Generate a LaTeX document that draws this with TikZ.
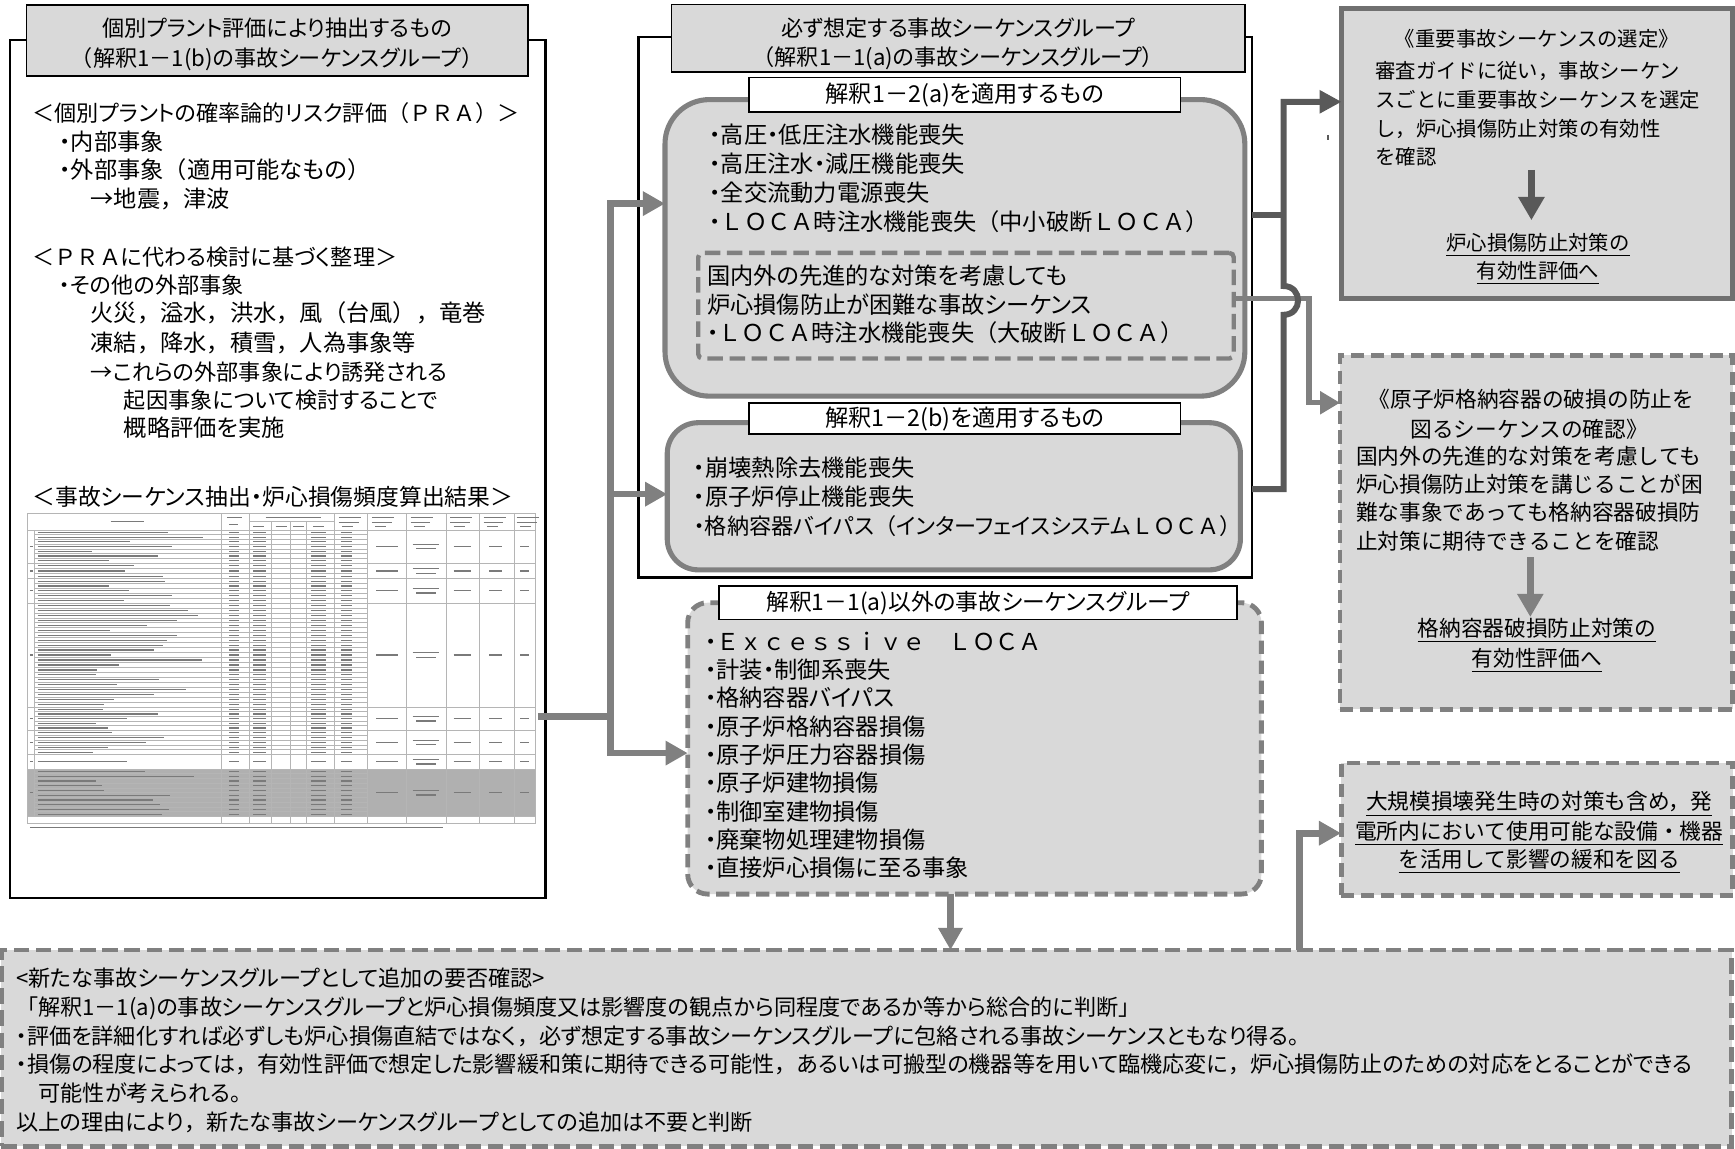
\documentclass[tikz,border=0pt]{standalone}
\usepackage{fontspec}
\usepackage{graphicx}
\setmainfont{Noto Sans CJK JP}[RawFeature={+palt}]
\newfontfamily\monojp{Noto Sans CJK JP}
\newfontfamily\fwfont{Noto Sans CJK JP}
\newcommand\fw[1]{{\fwfont #1}}
\usetikzlibrary{arrows.meta,fit}
\definecolor{boxgray}{HTML}{D9D9D9}
\definecolor{edgegray}{HTML}{808080}
\definecolor{darkline}{HTML}{595959}
\definecolor{rone}{HTML}{707070}
\definecolor{tgray}{HTML}{B0B0B0}
\definecolor{tline}{HTML}{B5B5B5}
\definecolor{tbar}{HTML}{7A7A7A}
\tikzset{
  every node/.style={inner sep=0pt, outer sep=0pt},
  txt/.style={anchor=west, font=\fontsize{10pt}{12pt}\selectfont, text height=8.8pt, text depth=1.2pt},
  big/.style={txt, font=\fontsize{10.5pt}{12pt}\selectfont},
  ctxt/.style={txt, anchor=center},
  ttl/.style={ctxt, font=\fontsize{10pt}{12pt}\selectfont},
  sub/.style={ctxt, font=\fontsize{10.5pt}{12pt}\selectfont},
  rtxtA/.style={anchor=west, font=\monojp\fontsize{9.2pt}{12pt}\selectfont, text height=8.1pt, text depth=1.1pt},
  rtxtB/.style={anchor=west, font=\monojp\fontsize{9.8pt}{12pt}\selectfont, text height=8.6pt, text depth=1.2pt},
  btxt/.style={txt, font=\fontsize{10pt}{12pt}\selectfont},
  plainbox/.style={draw=black, line width=1pt},
  titlebox/.style={draw=black, fill=boxgray, line width=0.7pt},
  subbox/.style={draw=black, fill=white, line width=0.7pt},
  roundbox/.style={draw=edgegray, fill=boxgray, line width=2.3pt},
  solidbox/.style={draw=rone, fill=boxgray, line width=2.3pt},
  dashbox/.style={draw=edgegray, fill=boxgray, line width=2.2pt, dash pattern=on 6pt off 3pt},
  gcon/.style={draw=edgegray, line width=3pt, line join=miter},
  dcon/.style={draw=darkline, line width=2.7pt, line join=miter},
  lcon/.style={draw=edgegray, line width=2.4pt, line join=miter},
  arrowG/.style={-{Triangle[length=10pt,width=10.5pt]}},
  arrowS/.style={-{Triangle[length=9pt,width=10pt]}},
  tl/.style={draw=tline, line width=0.35pt},
  tb/.style={draw=tbar, line width=0.55pt}
}
\begin{document}
\begin{tikzpicture}[x=0.5pt,y=-0.5pt]
\useasboundingbox (0,0) rectangle (1568,1038);

% ================= LEFT =================
\node[plainbox, fit={(9,36)(493,811.7)}] (LB) {};
\node[titlebox, fit={(24,4.5)(477,68.7)}] (LT) {};
\node[ttl] (lt1) at (250.5,25.6) {個別プラント評価により抽出するもの};
\node[ttl] (lt2) at (250.5,52.7) {\fw{（}解釈1\fw{－}1(b)の事故シーケンスグループ\fw{）}};

\node[txt] (l1) at (29.5,102.5) {\fw{＜}個別プラントの確率論的リスク評価\fw{（ＰＲＡ）＞}};
\node[big] (l2) at (53.5,128) {・内部事象};
\node[big] (l3) at (53.5,153.6) {・外部事象\fw{（}適用可能なもの\fw{）}};
\node[big] (l4) at (82,180) {→地震\fw{，}津波};
\node[txt] (l5) at (29.5,232) {\fw{＜ＰＲＡ}に代わる検討に基づく整理\fw{＞}};
\node[txt] (l6) at (53.5,257.6) {・その他の外部事象};
\node[big] (l7) at (82,283) {火災\fw{，}溢水\fw{，}洪水\fw{，}風\fw{（}台風\fw{），}竜巻};
\node[big] (l8) at (82,310) {凍結\fw{，}降水\fw{，}積雪\fw{，}人為事象等};
\node[txt] (l9) at (82,336) {→これらの外部事象により誘発される};
\node[txt] (l10) at (112,361.5) {起因事象について検討することで};
\node[big] (l11) at (112,387) {概略評価を実施};
\node[txt, font=\fontsize{10.3pt}{12pt}\selectfont] (l12) at (29.5,449) {\fw{＜}事故シーケンス抽出・炉心損傷頻度算出結果\fw{＞}};

% ---- table picture ----
\node[fit={(25,464)(484,744)}] (tbl) {};
\fill[tgray] (25,695) rectangle (484,738);
\draw[tl] (25,464) rectangle (484,744);
\draw[tl] (25,479) -- (484,479);
\draw[tl] (225,471.5) -- (302,471.5);
\foreach \x in {200,225,302,332,367,403,433.5,464.6} \draw[tl] (\x,464) -- (\x,744);
\foreach \x in {245,262,277} \draw[tl] (\x,471.5) -- (\x,744);
\draw[tl] (31.5,479) -- (31.5,738);
% header text bars
\draw[tb] (100,471) -- ++(30,0);
\draw[tb] (205,468) -- ++(14,0); \draw[tb] (207,474) -- ++(8,0);
\draw[tb] (240,467.5) -- ++(50,0);
\foreach \x in {229,249,265,283} \draw[tb] (\x,475.5) -- ++(10,0);
\foreach \x in {306,336,371,407,437,467} {\draw[tb] (\x,468) -- ++(20,0); \draw[tb] (\x,472) -- ++(18,0); \draw[tb] (\x+3,476) -- ++(10,0);}
\pgfmathsetseed{11}
\foreach \ya/\yb/\n in {479/509/7, 509/523/3, 523/545/5, 545/639/21, 639/660/5, 660/682/5, 682/695/1, 695/738/10} {
  \draw[tl] (25,\yb) -- (484,\yb);
  \pgfmathsetmacro\hh{(\yb-\ya)/\n}
  \pgfmathsetmacro\ym{(\ya+\yb)/2}
  \foreach \k in {1,...,\n} {
    \pgfmathsetmacro\yc{\ya+(\k-0.5)*\hh}
    \pgfmathsetmacro\yl{\ya+\k*\hh}
    \pgfmathsetmacro\len{45+110*rnd}
    \draw[tb] (34,\yc) -- ++(\len,0);
    \draw[tb] (207,\yc) -- ++(9,0);
    \draw[tb] (229,\yc) -- ++(11,0);
    \draw[tb] (281,\yc) -- ++(14,0);
    \draw[tb] (308,\yc) -- ++(10,0);
    \ifnum\k<\n \draw[tl] (31.5,\yl) -- (332,\yl); \fi
  }
  \draw[tb] (27,\ym) -- ++(3,0);
  \draw[tb] (340,\ym) -- ++(20,0);
  \draw[tb] (373,\ym-2) -- ++(24,0); \draw[tb] (376,\ym+2) -- ++(18,0);
  \draw[tb] (410,\ym) -- ++(16,0);
  \draw[tb] (442,\ym) -- ++(12,0);
  \draw[tb] (470,\ym) -- ++(8,0);
}
\draw[tb] (27,748) -- (400,748);

% ================= MIDDLE =================
\node[plainbox, fit={(577,33.5)(1131.5,522)}] (MB) {};
\node[titlebox, fit={(607,4)(1125,65)}] (MT) {};
\node[ttl] (mt1) at (866,25) {必ず想定する事故シーケンスグループ};
\node[ttl] (mt2) at (866,52) {\fw{（}解釈1\fw{－}1(a)の事故シーケンスグループ\fw{）}};

\node[roundbox, rounded corners=20pt, fit={(601,90)(1125,358)}] (A) {};
\node[subbox, fit={(677,70)(1067,101)}] (SA) {};
\node[sub] (sat) at (872,85) {解釈1\fw{－}2(a)を適用するもの};
\node[big] (a1) at (641,122.5) {・高圧・低圧注水機能喪失};
\node[big] (a2) at (641,148.5) {・高圧注水・減圧機能喪失};
\node[big] (a3) at (641,174.5) {・全交流動力電源喪失};
\node[big] (a4) at (641,200.5) {・\fw{ＬＯＣＡ}時注水機能喪失\fw{（}中小破断\fw{ＬＯＣＡ）}};
\node[dashbox, line width=2pt, dash pattern=on 7pt off 3pt, rounded corners=2pt, fit={(631,228.6)(1115,324)}] (D) {};
\node[big] (d1) at (639,249.4) {国内外の先進的な対策を考慮しても};
\node[big] (d2) at (639,275.5) {炉心損傷防止が困難な事故シーケンス};
\node[big] (d3) at (639,301) {・\fw{ＬＯＣＡ}時注水機能喪失\fw{（}大破断\fw{ＬＯＣＡ）}};

\node[roundbox, rounded corners=14pt, fit={(603,382)(1121,515)}] (B) {};
\node[subbox, fit={(677,364)(1067,392)}] (SB) {};
\node[sub] (sbt) at (872,378) {解釈1\fw{－}2(b)を適用するもの};
\node[big] (b1) at (627,423) {・崩壊熱除去機能喪失};
\node[big] (b2) at (627,449) {・原子炉停止機能喪失};
\node[txt] (b3) at (627,475) {・格納容器バイパス\fw{（}インターフェイスシステム\fw{ＬＯＣＡ）}};

\node[dashbox, rounded corners=9pt, fit={(621.5,544.7)(1140,808)}] (C) {};
\node[subbox, fit={(650,529.6)(1118,560)}] (SC) {};
\node[sub, font=\fontsize{10.3pt}{12pt}\selectfont] (sct) at (884,544) {解釈1\fw{－}1(a)以外の事故シーケンスグループ};
\node[big] (c1) at (637,580) {・\fw{Ｅｘｃｅｓｓｉｖｅ　ＬＯＣＡ}};
\node[big] (c2) at (637,605.5) {・計装・制御系喪失};
\node[big] (c3) at (637,631) {・格納容器バイパス};
\node[big] (c4) at (637,656.7) {・原子炉格納容器損傷};
\node[big] (c5) at (637,682) {・原子炉圧力容器損傷};
\node[big] (c6) at (637,708) {・原子炉建物損傷};
\node[big] (c7) at (637,733.6) {・制御室建物損傷};
\node[big] (c8) at (637,759) {・廃棄物処理建物損傷};
\node[big] (c9) at (637,784.6) {・直接炉心損傷に至る事象};

% ================= RIGHT =================
\node[solidbox, fit={(1212.5,8)(1566,269.5)}] (R1) {};
\node[rtxtA, anchor=center] (r1t) at (1389,35) {《重要事故シーケンスの選定》};
\node[rtxtA] (r1a) at (1243,64) {審査ガイドに従い，事故シーケン};
\node[rtxtA] (r1b) at (1243,90) {スごとに重要事故シーケンスを選定};
\node[rtxtA] (r1c) at (1243,116) {し，炉心損傷防止対策の有効性};
\node[rtxtA] (r1d) at (1243,141.5) {を確認};
\node[rtxtA, anchor=center] (r1e) at (1390,219.8) {\underline{炉心損傷防止対策の}};
\node[rtxtA, anchor=center] (r1f) at (1390,244.6) {\underline{有効性評価へ}};
\coordinate (r1s) at (1384,153.5);
\coordinate (r1x) at (1384,199);
\draw[draw=darkline, line width=3pt, -{Triangle[length=10.5pt,width=11.3pt]}] (r1s) -- (r1x);
\draw[draw=darkline, line width=0.8pt] (1200,122) -- (1200,126.5);

\node[dashbox, fit={(1211,321)(1566,641)}] (R2) {};
\node[rtxtB, anchor=center] (r2t1) at (1384,360.6) {《原子炉格納容器の破損の防止を};
\node[rtxtB, anchor=center] (r2t2) at (1382,387.6) {図るシーケンスの確認》};
\node[rtxtB] (r2a) at (1225.5,412) {国内外の先進的な対策を考慮しても};
\node[rtxtB] (r2b) at (1225.5,437.7) {炉心損傷防止対策を講じることが困};
\node[rtxtB] (r2c) at (1225.5,463.4) {難な事象であっても格納容器破損防};
\node[rtxtB] (r2d) at (1225.5,489) {止対策に期待できることを確認};
\node[rtxtB, anchor=center] (r2e) at (1389,568) {\underline{格納容器破損防止対策の}};
\node[rtxtB, anchor=center] (r2f) at (1389,595) {\underline{有効性評価へ}};
\coordinate (r2s) at (1383,503.6);
\coordinate (r2x) at (1383,557.6);
\draw[draw=edgegray, line width=3pt, -{Triangle[length=10.5pt,width=11.3pt]}] (r2s) -- (r2x);

\node[dashbox, fit={(1212,689.6)(1566,809)}] (R3) {};
\node[rtxtB, anchor=center] (r3a) at (1391,724.5) {\underline{大規模損壊発生時の対策も含め，発}};
\node[rtxtB, anchor=center] (r3b) at (1391,751.6) {\underline{電所内において使用可能な設備・機器}};
\node[rtxtB, anchor=center] (r3c) at (1391,777) {\underline{を活用して影響の緩和を図る}};

% ================= BOTTOM =================
\node[dashbox, dash pattern=on 7pt off 3pt, fit={(1,858.6)(1565,1036)}] (BT) {};
\node[btxt] (n1) at (14.5,884) {<新たな事故シーケンスグループとして追加の要否確認>};
\node[btxt] (n2) at (14.5,910) {\fw{「}解釈1\fw{－}1(a)の事故シーケンスグループと炉心損傷頻度又は影響度の観点から同程度であるか等から総合的に判断\fw{」}};
\node[btxt] (n3) at (14.5,936) {・評価を詳細化すれば必ずしも炉心損傷直結ではなく\fw{，}必ず想定する事故シーケンスグループに包絡される事故シーケンスともなり得る。};
\node[btxt] (n4) at (14.5,962) {・損傷の程度によっては\fw{，}有効性評価で想定した影響緩和策に期待できる可能性\fw{，}あるいは可搬型の機器等を用いて臨機応変に\fw{，}炉心損傷防止のための対応をとることができる};
\node[btxt] (n5) at (35,988) {可能性が考えられる。};
\node[btxt] (n6) at (14.5,1013.7) {以上の理由により\fw{，}新たな事故シーケンスグループとしての追加は不要と判断};

% ================= CONNECTORS =================
\coordinate (tout) at (486,647.7);
\coordinate (t1) at (551.5,184);
\coordinate (t2) at (551.5,446.6);
\coordinate (t3) at (551.5,680.6);
\draw[gcon] (tout) -- (tout -| t1);
\draw[gcon, {Triangle[length=10pt,width=10.5pt]}-{Triangle[length=10pt,width=10.5pt]}] (A.west |- t1) -- (t1) -- (t3) -- (t3 -| C.west);
\draw[gcon, arrowG] (t2) -- (t2 -| B.west);

\coordinate (cd) at (859,0);
\draw[gcon, arrowG] (C.south -| cd) -- (BT.north -| cd);
\coordinate (e1) at (1174.5,753);
\draw[gcon, arrowG] (BT.north -| e1) -- (e1) -- (e1 -| R3.west);

\coordinate (k1) at (1183,270);
\coordinate (k2) at (1183,364);
\draw[lcon, arrowS] (D.east |- k1) -- (k1) -- (k2) -- (k2 -| R2.west);

\coordinate (j1) at (1160,92);
\coordinate (j2) at (1160,442);
\coordinate (j3) at (1160,194.5);
\draw[dcon] (j3 -| MB.east) -- (j3);
\draw[dcon, -{Triangle[length=10pt,width=10pt]}] (j2 -| MB.east) -- (j2) -- (1160,284.5) .. controls (1177.5,284.5) and (1177.5,258.5) .. (1160,258.5) -- (j1) -- (j1 -| R1.west);
\end{tikzpicture}
\end{document}
